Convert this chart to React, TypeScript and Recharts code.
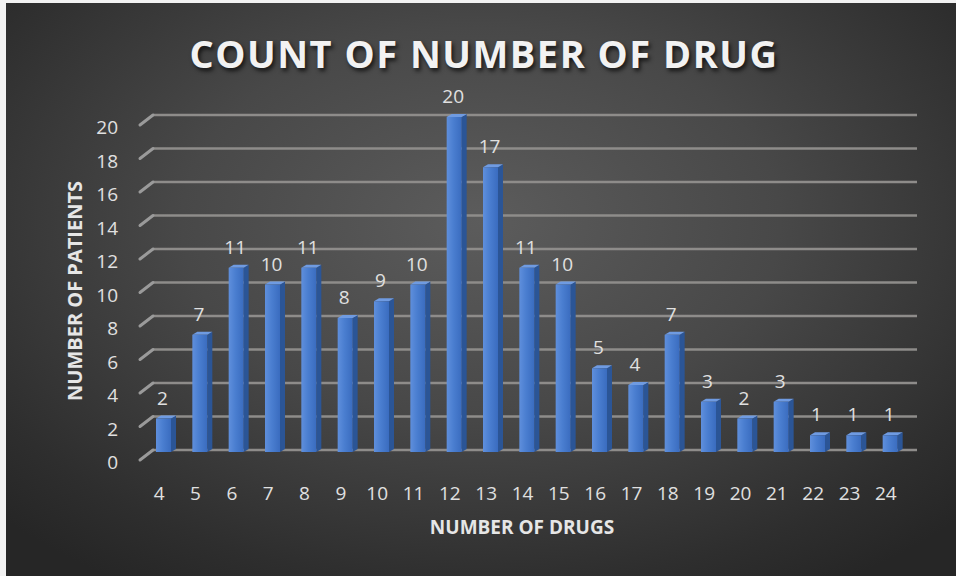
import React from 'react';
import { BarChart, Bar, XAxis, YAxis, CartesianGrid, LabelList } from 'recharts';

const categories = ['4','5','6','7','8','9','10','11','12','13','14','15','16','17','18','19','20','21','22','23','24'];
const patients = [2,7,11,10,11,8,9,10,20,17,11,10,5,4,7,3,2,3,1,1,1];
const yTicks = [0,2,4,6,8,10,12,14,16,18,20];

const data = categories.map((c, i) => ({ drugs: c, patients: patients[i] }));

const FONT = "'Open Sans', 'Lato', sans-serif";
const TXT = '#e0e0e0';

const Bar3D = (props: any) => {
  const { x, y, width, height } = props;
  if (height <= 0) return null;
  const d = 5, dy = 3;
  return (
    <g>
      <defs>
        <linearGradient id="barFrontGrad" x1="0" y1="0" x2="1" y2="0">
          <stop offset="0%" stopColor="#5f8fdc" />
          <stop offset="45%" stopColor="#4a7ed0" />
          <stop offset="100%" stopColor="#3a6cbf" />
        </linearGradient>
      </defs>
      <polygon points={`${x + width},${y} ${x + width + d},${y - dy} ${x + width + d},${y + height - dy} ${x + width},${y + height}`} fill="#2b5596" />
      <polygon points={`${x},${y} ${x + width},${y} ${x + width + d},${y - dy} ${x + d},${y - dy}`} fill="#6f9be2" />
      <rect x={x} y={y} width={width} height={height} fill="url(#barFrontGrad)" />
    </g>
  );
};

const GridLine = (p: any) => {
  const y = p.y1 - 2;
  return (
    <g key={p.key}>
      <line x1={153} y1={y} x2={917} y2={y} stroke="#8e8c8a" strokeWidth={2.5} />
      <line x1={140} y1={y + 10} x2={153} y2={y} stroke="#9a9a9a" strokeWidth={3} strokeLinecap="round" />
    </g>
  );
};

const YTick = (p: any) => (
  <text x={118} y={p.y + 10} textAnchor="end" dominantBaseline="central" fill={TXT} fontSize={19} fontFamily={FONT}>
    {p.payload.value}
  </text>
);

const XTick = (p: any) => (
  <text x={p.x - 4} y={493} textAnchor="middle" dominantBaseline="central" fill={TXT} fontSize={19} fontFamily={FONT}>
    {p.payload.value}
  </text>
);

const ValueLabel = (p: any) => (
  <text x={p.x + p.width / 2 - 1} y={p.y - 21} textAnchor="middle" dominantBaseline="central" fill={TXT} fontSize={19} fontFamily={FONT}>
    {p.value}
  </text>
);

export default function App() {
  return (
    <div style={{ position: 'fixed', left: 0, top: 0, width: 956, height: 576, background: '#f2f2f2', overflow: 'hidden' }}>
      <div style={{ position: 'absolute', left: 6, top: 3, width: 950, height: 573, background: 'radial-gradient(ellipse 70% 75% at 50% 38%, #5c5c5c 0%, #484848 45%, #2e2e2e 85%, #262626 100%)' }} />
      <div style={{ position: 'absolute', left: 0, top: 0 }}>
        <BarChart width={956} height={576} data={data} margin={{ top: 117, right: 48, bottom: 94, left: 105 }}>
          <CartesianGrid vertical={false} horizontal={GridLine as any} />
          <YAxis domain={[0, 20]} ticks={yTicks} width={40} axisLine={false} tickLine={false} tick={YTick as any} />
          <XAxis dataKey="drugs" height={30} axisLine={false} tickLine={false} tick={XTick as any} interval={0} />
          <Bar dataKey="patients" barSize={15} shape={Bar3D as any} isAnimationActive={false}>
            <LabelList dataKey="patients" content={ValueLabel as any} />
          </Bar>
        </BarChart>
      </div>
      <div style={{ position: 'absolute', left: 0, width: 968, top: 27, textAlign: 'center', color: '#f2f2f2', fontFamily: FONT, fontWeight: 700, fontSize: 38, letterSpacing: 1.5, textShadow: '2px 3px 4px rgba(0,0,0,0.7)' }}>
        COUNT OF NUMBER OF DRUG
      </div>
      <div style={{ position: 'absolute', left: 0, width: 1044, top: 514, textAlign: 'center', color: '#e6e6e6', fontFamily: FONT, fontWeight: 700, fontSize: 19 }}>
        NUMBER OF DRUGS
      </div>
      <div style={{ position: 'absolute', left: 74, top: 291, transform: 'translate(-50%, -50%) rotate(-90deg)', whiteSpace: 'nowrap', color: '#e6e6e6', fontFamily: FONT, fontWeight: 700, fontSize: 20 }}>
        NUMBER OF PATIENTS
      </div>
    </div>
  );
}
